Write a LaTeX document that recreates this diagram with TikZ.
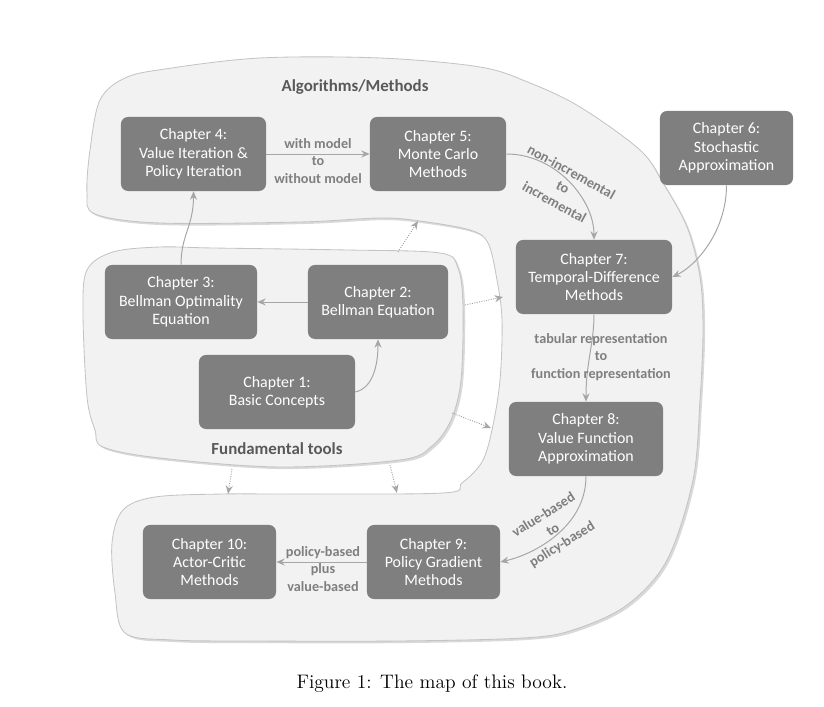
\documentclass[tikz,border=0pt]{standalone}
\usepackage{fontspec}
\newfontfamily\mapfont{Carlito}
\usetikzlibrary{arrows.meta,shadows}
\definecolor{boxgray}{HTML}{7F7F7F}
\definecolor{areafill}{HTML}{F2F2F2}
\definecolor{areaedge}{HTML}{C4C4C4}
\definecolor{linkgray}{HTML}{A6A6A6}
\definecolor{titlegray}{HTML}{595959}

\begin{document}
\begin{tikzpicture}[
  x=0.025cm, y=-0.025cm,
  >={Stealth[length=6pt,width=5pt]},
  chap/.style={fill=boxgray,text=white,rounded corners=5pt,inner sep=0pt,
    minimum height=1.85cm,align=center,
    font=\mapfont\fontsize{11.3}{13.1}\selectfont},
  area/.style={fill=areafill,draw=areaedge,line width=.6pt,
    drop shadow={shadow xshift=1.5pt,shadow yshift=-1.5pt,opacity=.3}},
  link/.style={linkgray,line width=.7pt,->},
  hint/.style={linkgray,line width=.7pt,densely dotted,->},
  tag/.style={text=boxgray,align=center,
    font=\mapfont\bfseries\fontsize{10.1}{12.4}\selectfont},
  title/.style={text=titlegray,font=\mapfont\bfseries\fontsize{12}{14}\selectfont}
]
  \useasboundingbox (0,0) rectangle (824,707);

  % the two areas
  \draw[area] plot[smooth cycle,tension=.55] coordinates {
    (90,150) (100,100) (125,78) (165,69) (260,58) (380,58) (480,67)
    (530,83) (580,107) (640,150) (663,183) (687,227) (700,277) (703,330)
    (700,400) (693,480) (667,560) (627,605) (573,630) (523,638) (400,641)
    (250,641) (173,640) (125,633) (115,593) (112,543) (123,510) (155,497)
    (223,494) (290,494) (443,493) (462,483) (482,462) (492,430) (500,380)
    (502,320) (497,280) (488,243) (470,230) (420,221) (380,218) (300,222)
    (160,223) (95,214) (87,193)};
  \draw[area] plot[smooth cycle,tension=.55] coordinates {
    (87,270) (113,252) (160,247) (213,248) (347,250) (440,253) (458,268)
    (463,307) (461,380) (451,420) (432,446) (400,460) (280,467) (160,458)
    (103,447) (95,430) (87,397) (83,313)};

  \node[title] (algos) at (355,87) {Algorithms/Methods};
  \node[title] (tools) at (277,449) {Fundamental tools};

  \node[chap,minimum width=3.625cm] (ch4) at (193.5,154) {Chapter 4:\\Value Iteration \&\\Policy Iteration};
  \node[chap,minimum width=3.4cm] (ch5) at (438,154) {Chapter 5:\\Monte Carlo\\Methods};
  \node[chap,minimum width=3.325cm] (ch6) at (726.5,148) {Chapter 6:\\Stochastic\\Approximation};
  \node[chap,minimum width=3.9cm] (ch7) at (594,277) {Chapter 7:\\Temporal-Difference\\Methods};
  \node[chap,minimum width=3.8cm] (ch3) at (181,302) {Chapter 3:\\Bellman Optimality\\Equation};
  \node[chap,minimum width=3.5cm] (ch2) at (378,302) {Chapter 2:\\Bellman Equation};
  \node[chap,minimum width=3.9cm] (ch1) at (277,392) {Chapter 1:\\Basic Concepts};
  \node[chap,minimum width=3.85cm] (ch8) at (586,439) {Chapter 8:\\Value Function\\Approximation};
  \node[chap,minimum width=3.325cm] (ch9) at (433.5,562) {Chapter 9:\\Policy Gradient\\Methods};
  \node[chap,minimum width=3.325cm] (ch10) at (209.5,562) {Chapter 10:\\Actor-Critic\\Methods};

  \draw[link] (ch1.east) .. controls +(18,-4) and +(0,25) .. (ch2.south);
  \draw[link] (ch2) -- (ch3);
  \draw[link] (ch3.north) .. controls +(0,-30) and +(0,35) .. (ch4.south);
  \draw[link] (ch4) -- (ch5);
  \draw[link] (ch5.east) .. controls +(50,0) and +(0,-40) .. (ch7.north);
  \draw[link] (ch6.south) .. controls +(0,45) and +(25,-12) .. (ch7.east);
  \draw[link] (ch7.south) .. controls +(0,30) and +(0,-40) .. (ch8.north);
  \draw[link] (ch8.south) .. controls +(0,50) and +(35,-8) .. (ch9.east);
  \draw[link] (ch9) -- (ch10);

  % dotted hints from the tools to the methods
  \coordinate (tools1) at (398,252);
  \coordinate (algo1) at (418,221);
  \coordinate (tools2) at (465,305);
  \coordinate (algo2) at (503,297);
  \coordinate (tools3) at (452,413);
  \coordinate (algo3) at (491,428);
  \coordinate (tools4) at (232,469);
  \coordinate (algo4) at (228,494);
  \coordinate (tools5) at (390,465);
  \coordinate (algo5) at (397,493);
  \foreach \i in {1,...,5}
    \draw[hint] (tools\i) -- (algo\i);

  \node[tag] (modeltag) at (318,161) {with model\\to\\without model};
  \node[tag,rotate=-29] (inctag) at (563,187) {non-incremental\\to\\incremental};
  \node[tag] (reptag) at (601,357) {tabular representation\\to\\function representation};
  \node[tag,rotate=32] (basedtag) at (553,530) {value-based\\to\\policy-based};
  \node[tag] (plustag) at (323,569) {policy-based\\plus\\value-based};

  \node (caption) at (432,684) {\fontsize{13.9}{16}\selectfont Figure 1: The map of this book.};
\end{tikzpicture}
\end{document}
